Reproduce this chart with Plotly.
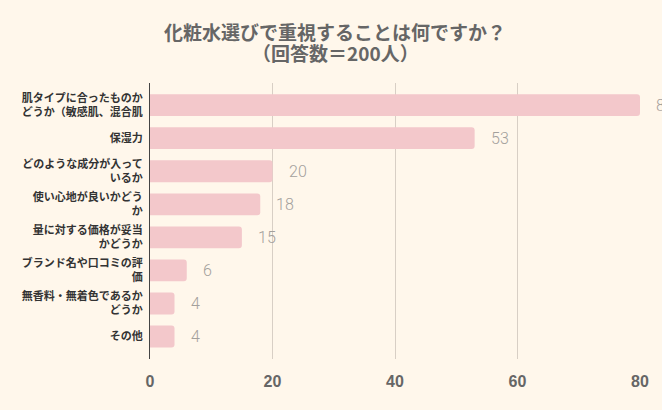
import plotly.graph_objects as go

categories = [
    "肌タイプに合ったものか<br>どうか（敏感肌、混合肌",
    "保湿力",
    "どのような成分が入って<br>いるか",
    "使い心地が良いかどう<br>か",
    "量に対する価格が妥当<br>かどうか",
    "ブランド名や口コミの評<br>価",
    "無香料・無着色であるか<br>どうか",
    "その他",
]
values = [80, 53, 20, 18, 15, 6, 4, 4]
x_ticks = [0, 20, 40, 60, 80]
title_lines = ["化粧水選びで重視することは何ですか？", "（回答数＝200人）"]

BG = "#FFF7EB"
BAR = "#F3C8CB"

fig = go.Figure()
fig.add_trace(go.Bar(
    x=values, y=categories, orientation="h",
    marker=dict(color=BAR, line=dict(width=0), cornerradius=3),
    width=0.66, hoverinfo="skip",
))

for c, v in zip(categories, values):
    fig.add_annotation(x=v, y=c, text=str(v), showarrow=False,
                       xanchor="left", yanchor="middle", xshift=14,
                       font=dict(family="Roboto, Liberation Sans", size=16, color="#A3A09C", weight=300))

for i, t in enumerate(title_lines):
    fig.add_annotation(text=t, xref="paper", yref="paper", x=(335 - 150) / 490, y=1.0,
                       xanchor="center", yanchor="middle", showarrow=False,
                       yshift=(83 - 31) - 21 * i,
                       font=dict(family="Noto Sans CJK JP", size=19, color="#666666", weight="bold"))

fig.update_layout(
    width=662, height=410,
    margin=dict(l=150, r=22, t=83, b=51),
    paper_bgcolor=BG, plot_bgcolor=BG,
    showlegend=False,
    xaxis=dict(range=[0, 80], tickvals=x_ticks, showgrid=True, gridcolor="#D8CFC5", gridwidth=1,
               zeroline=False, showline=False, ticks="",
               tickfont=dict(family="Liberation Sans, Arial", size=16, color="#666666", weight="bold"),
               ticklabelstandoff=11),
    yaxis=dict(type="category", categoryorder="array", categoryarray=categories,
               range=[7.68, -0.67], showgrid=False, zeroline=False,
               showline=True, linecolor="#444444", linewidth=1.2, ticks="",
               tickfont=dict(family="Noto Sans CJK JP", size=11, color="#333333", weight="bold"),
               ticklabelstandoff=4),
)

fig.write_html("out.html")
